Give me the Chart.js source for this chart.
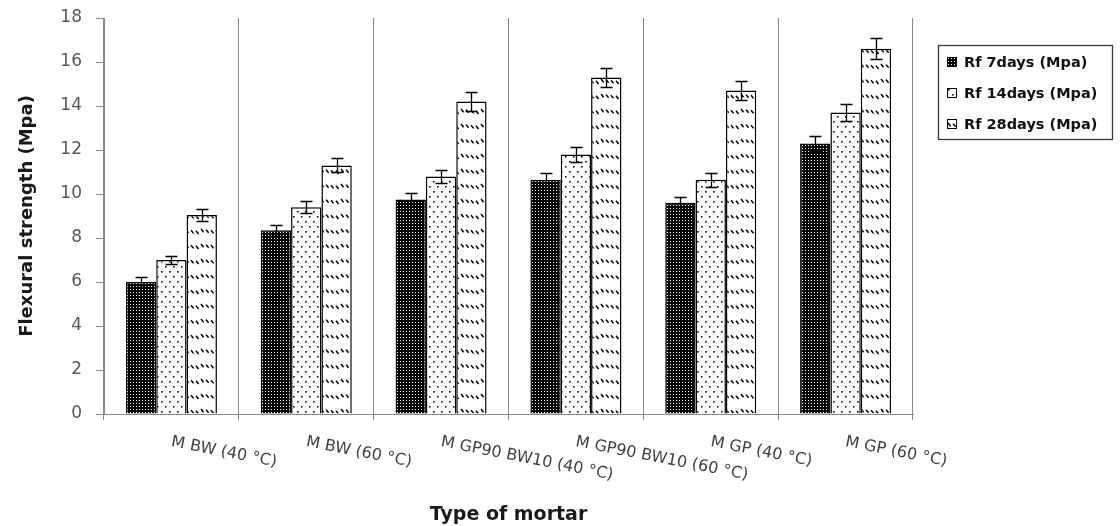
<!DOCTYPE html>
<html>
<head>
<meta charset="utf-8">
<script src="https://cdn.jsdelivr.net/npm/chart.js@4.4.1/dist/chart.umd.min.js"></script>
<style>
  html, body { margin: 0; padding: 0; background: #fff; }
  #wrap { width: 1120px; height: 526px; position: relative; }
</style>
</head>
<body>
<div id="wrap"><canvas id="chart" width="1120" height="526"></canvas></div>
<script>
// Mortar types along the x axis
const categories = [
  'M BW (40 °C)',
  'M BW (60 °C)',
  'M GP90 BW10 (40 °C)',
  'M GP90 BW10 (60 °C)',
  'M GP (40 °C)',
  'M GP (60 °C)'
];

// Flexural strength (MPa) at each curing age
const rf7 = [6.0, 8.35, 9.75, 10.65, 9.6, 12.3];
const rf14 = [7.0, 9.4, 10.8, 11.8, 10.65, 13.7];
const rf28 = [9.05, 11.3, 14.2, 15.3, 14.7, 16.6];

// Error bar half-lengths (MPa)
const err7 = [0.22, 0.25, 0.28, 0.3, 0.28, 0.35];
const err14 = [0.2, 0.27, 0.3, 0.35, 0.32, 0.4];
const err28 = [0.26, 0.32, 0.42, 0.42, 0.43, 0.48];

const seriesNames = ['Rf 7days (Mpa)', 'Rf 14days (Mpa)', 'Rf 28days (Mpa)'];
const yTicks = [0, 2, 4, 6, 8, 10, 12, 14, 16, 18];

const FONT = "'DejaVu Sans', sans-serif";
const AXIS_GRAY = '#8a8a8a';

// Fill patterns for the three series
function makeTile(w, h, draw) {
  const c = document.createElement('canvas');
  c.width = w; c.height = h;
  const g = c.getContext('2d');
  draw(g);
  return c;
}
const ctx = document.getElementById('chart').getContext('2d');

// dense black with small white dots
const pat7 = ctx.createPattern(makeTile(3, 3, g => {
  g.fillStyle = '#000'; g.fillRect(0, 0, 3, 3);
  g.fillStyle = '#fff'; g.fillRect(1, 1, 1, 1);
}), 'repeat');

// white with sparse staggered dots
const pat14 = ctx.createPattern(makeTile(8, 10, g => {
  g.fillStyle = '#fff'; g.fillRect(0, 0, 8, 10);
  g.fillStyle = '#111';
  g.fillRect(1, 1, 1.6, 1.6);
  g.fillRect(5, 6, 1.6, 1.6);
}), 'repeat');

// white with rows of short downward-diagonal dashes
const pat28 = ctx.createPattern(makeTile(20, 15, g => {
  g.fillStyle = '#fff'; g.fillRect(0, 0, 20, 15);
  g.strokeStyle = '#000'; g.lineWidth = 1.5;
  for (let k = 0; k < 4; k++) {
    const x = 1 + k * 5, y = 4 + k * 0.6;
    g.beginPath(); g.moveTo(x, y); g.lineTo(x + 2.6, y + 3.2); g.stroke();
  }
}), 'repeat');

const patterns = [pat7, pat14, pat28];
const values = [rf7, rf14, rf28];
const errors = [err7, err14, err28];

// Error bars drawn on top of each bar
const errorBarPlugin = {
  id: 'errorBars',
  afterDatasetsDraw(chart) {
    const g = chart.ctx;
    const y = chart.scales.y;
    g.save();
    g.strokeStyle = '#000';
    g.lineWidth = 1.3;
    chart.data.datasets.forEach((ds, di) => {
      const meta = chart.getDatasetMeta(di);
      meta.data.forEach((bar, i) => {
        const v = ds.data[i], e = errors[di][i];
        const yt = Math.round(y.getPixelForValue(v + e)) + 0.5;
        const yb = Math.round(y.getPixelForValue(v - e)) + 0.5;
        const x = Math.round(bar.x) + 0.5;
        g.beginPath();
        g.moveTo(x, yt); g.lineTo(x, yb);
        g.moveTo(x - 6, yt); g.lineTo(x + 6, yt);
        g.moveTo(x - 6, yb); g.lineTo(x + 6, yb);
        g.stroke();
      });
    });
    g.restore();
  }
};

// Slanted category labels under the x axis
const slantLabelPlugin = {
  id: 'slantLabels',
  afterDraw(chart) {
    const g = chart.ctx;
    const xs = chart.scales.x;
    const base = chart.chartArea.bottom + 28;
    g.save();
    g.fillStyle = '#404040';
    g.font = '16px ' + FONT;
    g.textAlign = 'left';
    g.textBaseline = 'middle';
    chart.data.labels.forEach((lab, i) => {
      g.save();
      g.translate(xs.getPixelForValue(i), base);
      g.rotate(11 * Math.PI / 180);
      g.fillText(lab, 0, 0);
      g.restore();
    });
    g.restore();
  }
};

// Boxed legend on the right
const boxLegendPlugin = {
  id: 'boxLegend',
  afterDraw(chart) {
    const g = chart.ctx;
    const left = 938, top = 45, w = 174, h = 94;
    g.save();
    g.strokeStyle = '#3a3a3a';
    g.lineWidth = 1.3;
    g.strokeRect(left + 0.5, top + 0.5, w, h);
    g.font = 'bold 14.5px ' + FONT;
    g.textBaseline = 'middle';
    g.textAlign = 'left';
    chart.data.datasets.forEach((ds, i) => {
      const cy = top + 17 + i * 31;
      g.save();
      g.translate(left + 9, cy - 5);
      g.fillStyle = ds.backgroundColor;
      g.fillRect(0, 0, 10, 10);
      g.strokeStyle = '#000';
      g.lineWidth = 1;
      g.strokeRect(0.5, 0.5, 9, 9);
      g.restore();
      g.fillStyle = '#111';
      g.fillText(ds.label, left + 26, cy + 1);
    });
    g.restore();
  }
};

new Chart(ctx, {
  type: 'bar',
  data: {
    labels: categories,
    datasets: seriesNames.map((name, i) => ({
      label: name,
      data: values[i],
      backgroundColor: patterns[i],
      borderColor: '#000',
      borderWidth: 1.5,
      borderSkipped: 'bottom',
      categoryPercentage: 0.675,
      barPercentage: 1.0
    }))
  },
  options: {
    responsive: false,
    animation: false,
    layout: { padding: { left: 0, right: 207, top: 18, bottom: 0 } },
    plugins: {
      legend: { display: false },
      tooltip: { enabled: false }
    },
    scales: {
      x: {
        offset: true,
        grid: {
          offset: true,
          color: AXIS_GRAY,
          lineWidth: 1,
          drawTicks: true,
          tickLength: 6,
          tickColor: AXIS_GRAY
        },
        border: { color: AXIS_GRAY, width: 1 },
        ticks: { display: false },
        title: {
          display: true,
          text: 'Type of mortar',
          color: '#1a1a1a',
          font: { family: FONT, size: 19, weight: 'bold' },
          padding: { top: 0, bottom: 0 }
        },
        afterFit(scale) { scale.height = 112; }
      },
      y: {
        min: 0,
        max: 18,
        afterBuildTicks(scale) { scale.ticks = yTicks.map(v => ({ value: v })); },
        grid: {
          drawOnChartArea: false,
          drawTicks: true,
          tickLength: 8,
          tickColor: AXIS_GRAY
        },
        border: { color: AXIS_GRAY, width: 1 },
        ticks: {
          color: '#595959',
          font: { family: FONT, size: 17 },
          padding: 14
        },
        title: {
          display: true,
          text: 'Flexural strength (Mpa)',
          color: '#1a1a1a',
          font: { family: FONT, size: 18, weight: 'bold' },
          padding: { top: 17, bottom: 0 }
        },
        afterFit(scale) {
          scale.width = 104;
          // keep the end labels from pushing the plot area inward
          scale.paddingTop = 10;
          scale.paddingBottom = 10;
        }
      }
    }
  },
  plugins: [errorBarPlugin, slantLabelPlugin, boxLegendPlugin]
});
</script>
</body>
</html>
